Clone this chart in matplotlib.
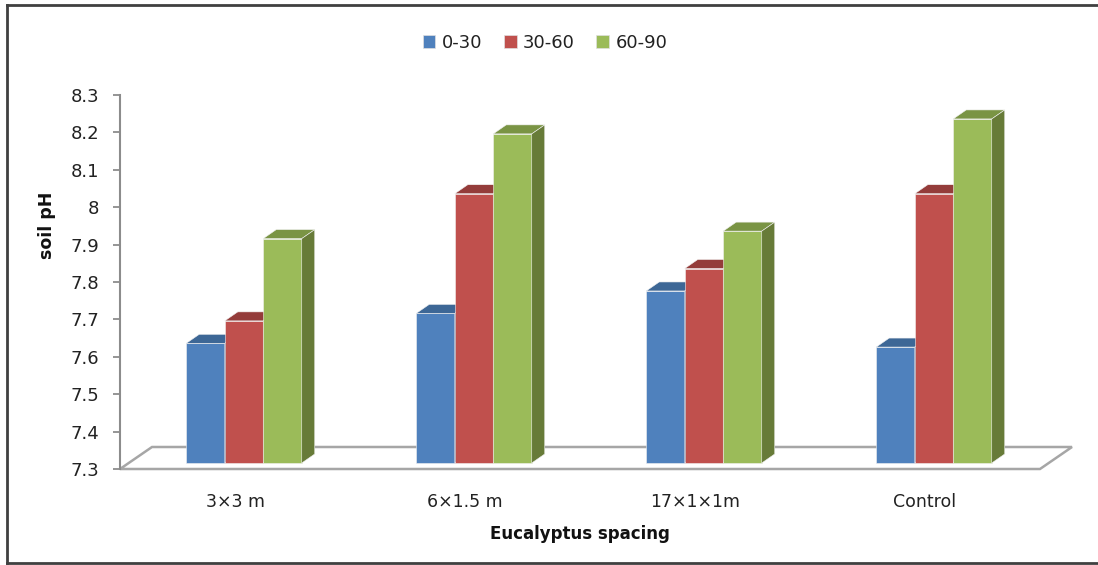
import numpy as np
import matplotlib.pyplot as plt
from matplotlib.patches import Polygon, Patch
from matplotlib.lines import Line2D

spacings = ['3×3 m', '6×1.5 m', '17×1×1m', 'Control']
depths = ['0-30', '30-60', '60-90']
ph_0_30 = [7.62, 7.70, 7.76, 7.61]
ph_30_60 = [7.68, 8.02, 7.82, 8.02]
ph_60_90 = [7.90, 8.18, 7.92, 8.22]

front_colors = ['#4F81BD', '#C0504D', '#9BBB59']
top_colors = ['#3D6796', '#943C3A', '#7A9444']
side_colors = ['#385B87', '#8C3836', '#677B38']

W, H = 1098, 565
fig = plt.figure(figsize=(W / 100, H / 100), dpi=100)
plt.rcParams['font.family'] = 'DejaVu Sans'

# plot area in pixels: floor front edge 120..1040, value axis 95..469
ax = fig.add_axes([120 / W, 1 - 469 / H, 920 / W, 374 / H])
ax.set_xlim(0, 4)
ax.set_ylim(7.3, 8.3)

px_x = 4 / 920      # data units per pixel
px_y = 1.0 / 374

# floor (3d base)
fdx, fdy = 32 * px_x, 22 * px_y
floor = Polygon([(0, 7.3), (4, 7.3), (4 + fdx, 7.3 + fdy), (fdx, 7.3 + fdy)],
                closed=True, facecolor='white', edgecolor='#A6A6A6',
                linewidth=1.8, clip_on=False, zorder=1)
ax.add_patch(floor)

# bars sit a little back from the front edge
ox, oy = 9 * px_x, 6 * px_y
bdx, bdy = 13 * px_x, 9 * px_y
bw = 38.5 * px_x

series = [ph_0_30, ph_30_60, ph_60_90]
for i in range(len(spacings)):
    for j, vals in enumerate(series):
        v = vals[i]
        x0 = i + 0.5 - 1.5 * bw + j * bw + ox
        x1 = x0 + bw
        y0 = 7.3 + oy
        y1 = v + oy
        faces = [
            ([(x0, y0), (x1, y0), (x1, y1), (x0, y1)], front_colors[j]),
            ([(x0, y1), (x1, y1), (x1 + bdx, y1 + bdy), (x0 + bdx, y1 + bdy)], top_colors[j]),
            ([(x1, y0), (x1 + bdx, y0 + bdy), (x1 + bdx, y1 + bdy), (x1, y1)], side_colors[j]),
        ]
        for pts, c in faces:
            ax.add_patch(Polygon(pts, closed=True, facecolor=c, edgecolor='#F2F2F2',
                                 linewidth=0.4, clip_on=False, zorder=2 + i))

for s in ['top', 'right', 'bottom']:
    ax.spines[s].set_visible(False)
ax.spines['left'].set_color('#8C8C8C')
ax.spines['left'].set_linewidth(1.5)
ax.patch.set_visible(False)

ax.set_yticks(np.arange(7.3, 8.31, 0.1))
ax.set_yticklabels(['7.3', '7.4', '7.5', '7.6', '7.7', '7.8', '7.9', '8', '8.1', '8.2', '8.3'])
ax.tick_params(axis='y', direction='out', length=5, width=1.3, color='#8C8C8C',
               labelsize=13, pad=10, labelcolor='#222222')
ax.set_xticks(np.arange(len(spacings)) + 0.5)
ax.set_xticklabels(spacings)
ax.tick_params(axis='x', length=0, labelsize=12.5, pad=17, labelcolor='#222222')

fig.text(47 / W, 1 - 225 / H, 'soil pH', rotation=90, ha='center', va='center',
         fontsize=12.5, fontweight='bold', color='#111111')
fig.text(580 / W, 1 - 534 / H, 'Eucalyptus spacing', ha='center', va='center',
         fontsize=12, fontweight='bold', color='#111111')

handles = [Patch(facecolor=c, edgecolor='#E0E0E0', linewidth=0.5) for c in front_colors]
fig.legend(handles, depths, loc='center', bbox_to_anchor=(545 / W, 1 - 43 / H),
           ncol=3, frameon=False, fontsize=13, handlelength=0.7, handleheight=0.7,
           handletextpad=0.35, columnspacing=1.2, labelcolor='#222222')

# chart border
bc = '#404040'
fig.add_artist(Line2D([7 / W, 7 / W], [1 - 563 / H, 1 - 5 / H], color=bc, lw=2))
fig.add_artist(Line2D([7 / W, 1], [1 - 5 / H, 1 - 5 / H], color=bc, lw=2))
fig.add_artist(Line2D([7 / W, 1], [1 - 563 / H, 1 - 563 / H], color=bc, lw=2))

fig.savefig('out.png', dpi=100)
